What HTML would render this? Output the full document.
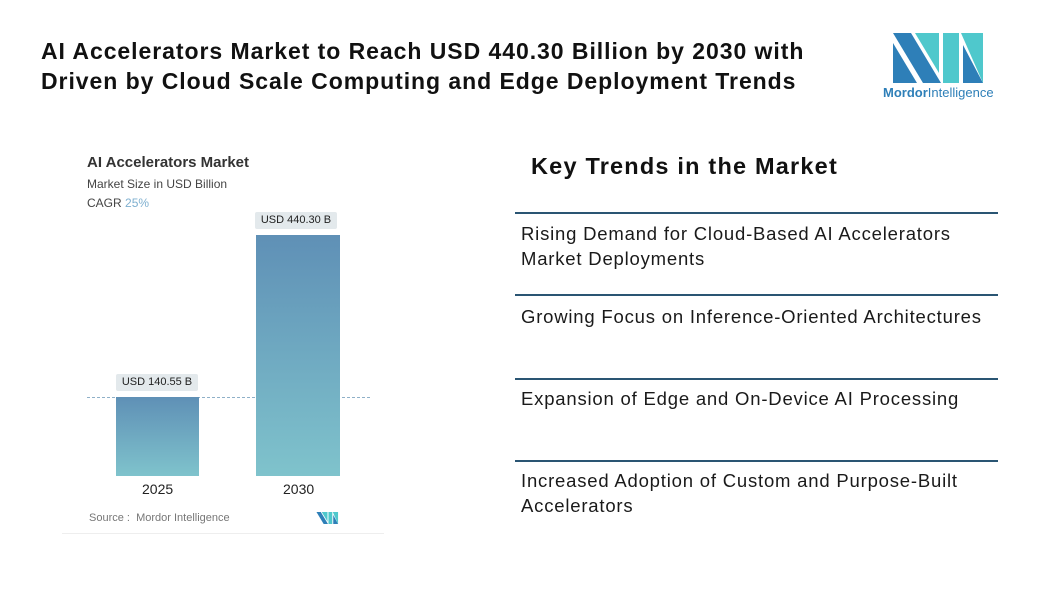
<!DOCTYPE html>
<html><head><meta charset="utf-8"><style>
body{margin:0;width:1039px;height:589px;background:#fff;font-family:"Liberation Sans",sans-serif;position:relative;overflow:hidden}
.a{position:absolute;white-space:nowrap}
.t{left:41px;top:36px;font-size:23px;font-weight:bold;color:#111;line-height:30px;letter-spacing:0.95px}
.ln{position:absolute;left:515px;width:483px;height:2px;background:#2a5573}
.tr{position:absolute;left:521px;font-size:18.5px;color:#1a1a1a;line-height:25px;letter-spacing:0.8px}
.lbl{position:absolute;background:#e3e9ec;font-size:11px;color:#222;text-align:center;height:17px;line-height:17px;border-radius:2px}
.bar{position:absolute;background:linear-gradient(#5f90b6,#7fc3cc)}
</style></head><body>
<div class="a t">AI Accelerators Market to Reach USD 440.30 Billion by 2030 with<br>Driven by Cloud Scale Computing and Edge Deployment Trends</div>
<svg class="a" style="left:893px;top:33px" width="92" height="50" viewBox="0 0 92 50">
<polygon points="0,0 18,0 48,50 30,50" fill="#2e7fb8"/>
<polygon points="0,10 24,50 0,50" fill="#2e7fb8"/>
<polygon points="22,0 46,0 46,40" fill="#4fc8cc"/>
<polygon points="50,0 66,0 66,50 50,50" fill="#4fc8cc"/>
<polygon points="68,0 90,0 90,50" fill="#4fc8cc"/>
<polygon points="70,12 90,50 70,50" fill="#2e7fb8"/>
</svg>
<div class="a" style="left:883px;top:85px;font-size:13px;color:#2e7fb8"><b>Mordor</b>Intelligence</div>

<div class="a" style="left:62px;top:533px;width:322px;height:1px;background:#eee"></div>
<div class="a" style="left:87px;top:154px;font-size:15px;font-weight:bold;color:#333">AI Accelerators Market</div>
<div class="a" style="left:87px;top:177px;font-size:12px;color:#444">Market Size in USD Billion</div>
<div class="a" style="left:87px;top:196px;font-size:12px;color:#444">CAGR <span style="color:#7fb0d0">25%</span></div>
<div class="a" style="left:87px;top:397px;width:283px;border-top:1px dashed #8fb0c8"></div>
<div class="bar" style="left:116px;top:397px;width:83px;height:79px"></div>
<div class="bar" style="left:256px;top:235px;width:84px;height:241px"></div>
<div class="lbl" style="left:116px;top:374px;width:82px">USD 140.55 B</div>
<div class="lbl" style="left:255px;top:212px;width:82px">USD 440.30 B</div>
<div class="a" style="left:142px;top:481px;font-size:14px;color:#222">2025</div>
<div class="a" style="left:283px;top:481px;font-size:14px;color:#222">2030</div>
<div class="a" style="left:89px;top:512px;font-size:11px;color:#777">Source :&nbsp; Mordor Intelligence</div>
<svg class="a" style="left:315px;top:512px" width="25" height="12" viewBox="0 0 92 50"><polygon points="0,0 18,0 48,50 30,50" fill="#2e7fb8"/><polygon points="22,0 46,0 46,40" fill="#4fc8cc"/><polygon points="50,0 66,0 66,50 50,50" fill="#4fc8cc"/><polygon points="68,0 90,0 90,50" fill="#4fc8cc"/><polygon points="70,12 90,50 70,50" fill="#2e7fb8"/></svg>

<div class="a" style="left:531px;top:153px;font-size:23.5px;font-weight:bold;color:#111;letter-spacing:1.2px">Key Trends in the Market</div>
<div class="ln" style="top:212px"></div>
<div class="tr" style="top:221px">Rising Demand for Cloud-Based AI Accelerators<br>Market Deployments</div>
<div class="ln" style="top:294px"></div>
<div class="tr" style="top:304px">Growing Focus on Inference-Oriented Architectures</div>
<div class="ln" style="top:378px"></div>
<div class="tr" style="top:386px">Expansion of Edge and On-Device AI Processing</div>
<div class="ln" style="top:460px"></div>
<div class="tr" style="top:468px">Increased Adoption of Custom and Purpose-Built<br>Accelerators</div>
</body></html>
